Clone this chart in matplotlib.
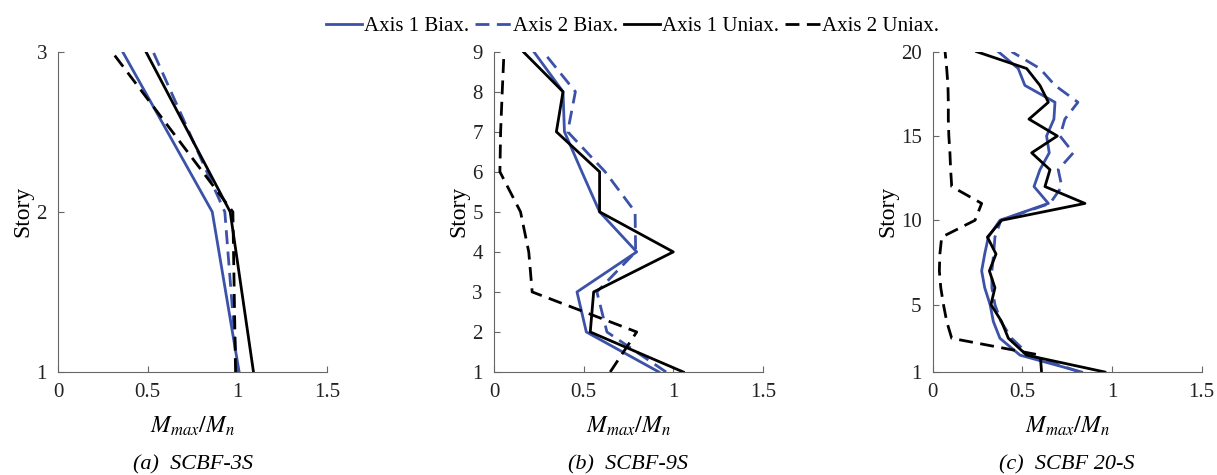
import matplotlib
matplotlib.use("Agg")
import matplotlib.pyplot as plt

plt.rcParams['font.family'] = ['Liberation Serif', 'DejaVu Serif']
plt.rcParams['mathtext.fontset'] = 'stix'

BLUE = '#3b52a8'
BLACK = '#000000'

# storey numbers and Mmax/Mn ratios for each frame
stories_a = [1, 2, 3]
a_ax1_biax = [1.01, 0.86, 0.36]
a_ax2_biax = [1.00, 0.93, 0.53]
a_ax1_uni = [1.09, 0.96, 0.49]
a_ax2_uni = [0.99, 0.975, 0.30]

stories_b = [1, 2, 3, 4, 5, 6, 7, 8, 9]
b_ax1_biax = [0.92, 0.515, 0.463, 0.796, 0.589, 0.49, 0.393, 0.385, 0.222]
b_ax2_biax = [0.96, 0.63, 0.574, 0.79, 0.787, 0.62, 0.411, 0.454, 0.274]
b_ax1_uni = [1.056, 0.537, 0.556, 1.0, 0.589, 0.589, 0.348, 0.385, 0.163]
b_ax2_uni = [0.648, 0.796, 0.213, 0.194, 0.148, 0.033, 0.037, 0.046, 0.056]

stories_c = list(range(1, 21))
c_ax1_biax = [0.83, 0.487, 0.375, 0.338, 0.32, 0.29, 0.273, 0.29, 0.31, 0.375,
              0.645, 0.565, 0.598, 0.65, 0.635, 0.676, 0.682, 0.514, 0.477, 0.366]
c_ax2_biax = [0.82, 0.54, 0.44, 0.38, 0.347, 0.33, 0.33, 0.34, 0.347, 0.38,
              0.654, 0.72, 0.70, 0.784, 0.71, 0.737, 0.81, 0.682, 0.598, 0.44]
c_ax1_uni = [0.96, 0.524, 0.422, 0.384, 0.325, 0.347, 0.316, 0.353, 0.305, 0.384,
             0.849, 0.626, 0.654, 0.552, 0.695, 0.537, 0.645, 0.598, 0.524, 0.245]
c_ax2_uni = [0.607, 0.6, 0.106, 0.078, 0.06, 0.045, 0.037, 0.04, 0.05, 0.236,
             0.273, 0.106, 0.1, 0.096, 0.09, 0.087, 0.087, 0.085, 0.078, 0.069]

panels = [
    (stories_a, a_ax1_biax, a_ax2_biax, a_ax1_uni, a_ax2_uni, [1, 2, 3], '(a)  SCBF-3S'),
    (stories_b, b_ax1_biax, b_ax2_biax, b_ax1_uni, b_ax2_uni, list(range(1, 10)), '(b)  SCBF-9S'),
    (stories_c, c_ax1_biax, c_ax2_biax, c_ax1_uni, c_ax2_uni, [1, 5, 10, 15, 20], '(c)  SCBF 20-S'),
]

lefts = [0.0477, 0.4059, 0.7664]
width = 0.221
bottom = 0.2168
height = 0.6744

fig = plt.figure(figsize=(12.17, 4.75), dpi=100)
dash = (5, 2.7)

for left, (st, b1, b2, u1, u2, yt, cap) in zip(lefts, panels):
    ax = fig.add_axes([left, bottom, width, height])
    ax.plot(b1, st, color=BLUE, lw=2, label='Axis 1 Biax.')
    ax.plot(b2, st, color=BLUE, lw=2, dashes=dash, label='Axis 2 Biax.')
    ax.plot(u1, st, color=BLACK, lw=2, label='Axis 1 Uniax.')
    ax.plot(u2, st, color=BLACK, lw=2, dashes=dash, label='Axis 2 Uniax.')
    ax.set_xlim(0, 1.5)
    ax.set_ylim(st[0], st[-1])
    ax.set_xticks([0, 0.5, 1, 1.5])
    ax.set_xticklabels(['0', '0.5', '1', '1.5'])
    ax.set_yticks(yt)
    ax.spines['top'].set_visible(False)
    ax.spines['right'].set_visible(False)
    for s in ('left', 'bottom'):
        ax.spines[s].set_color('#666666')
        ax.spines[s].set_linewidth(0.8)
    ax.tick_params(direction='in', length=4, width=0.8, color='#666666',
                   labelsize=15, pad=8, labelcolor='#222222')
    ax.set_xlabel(r'$M_{max}/M_n$', fontsize=17, labelpad=9)
    ax.set_ylabel('Story', fontsize=17, labelpad=2)
    ax.text(0.5, -0.29, cap, transform=ax.transAxes, ha='center', va='center',
            fontsize=16, style='italic')
    if left == lefts[0]:
        handles, labels = ax.get_legend_handles_labels()

fig.legend(handles, labels, loc='upper center', bbox_to_anchor=(0.52, 1.005), ncol=4,
           frameon=False, fontsize=15, handlelength=1.7, handletextpad=0.1,
           columnspacing=0.3)

fig.savefig('out.png', dpi=100)
